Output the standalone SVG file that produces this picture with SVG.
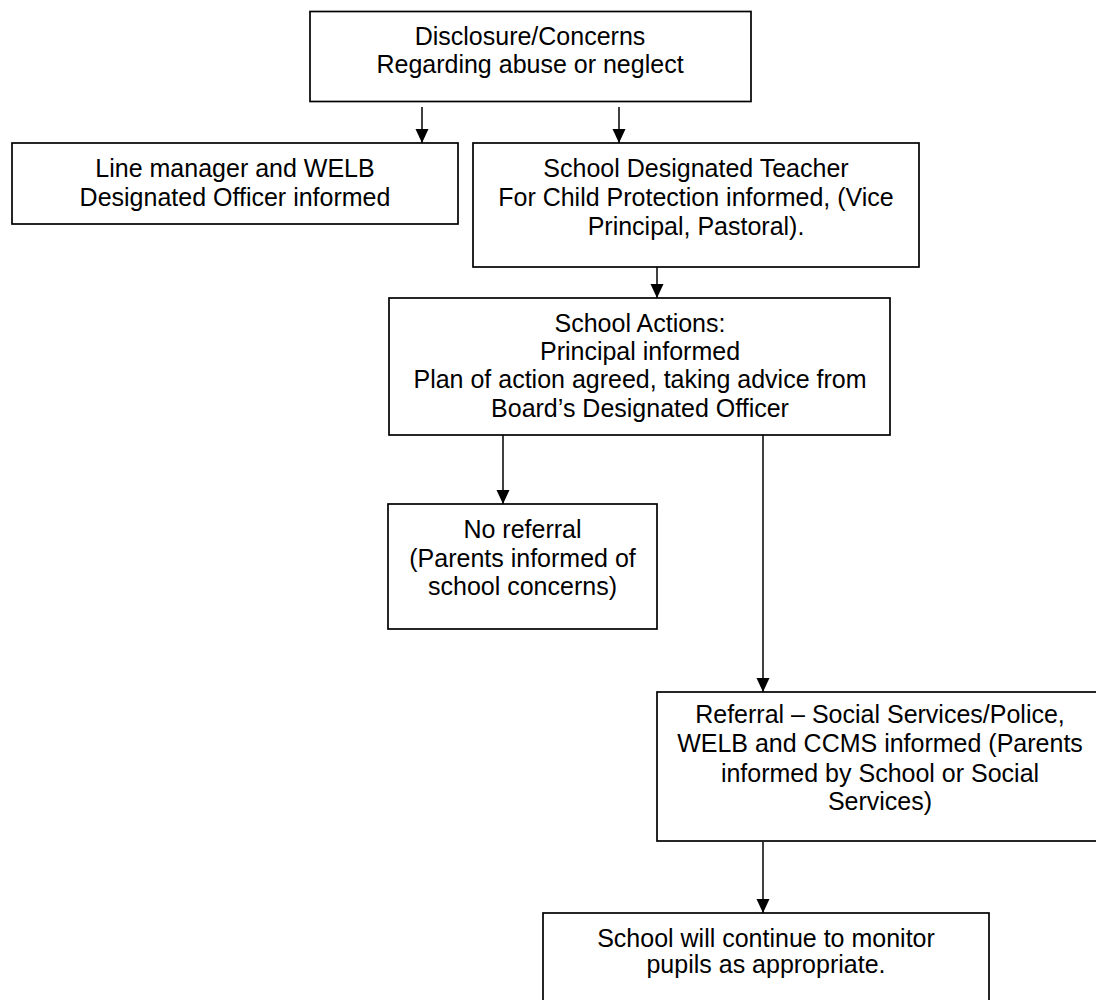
<svg xmlns="http://www.w3.org/2000/svg" width="1096" height="1000" viewBox="0 0 1096 1000">
<defs>
<marker id="ah" markerUnits="userSpaceOnUse" markerWidth="14" markerHeight="14" refX="14" refY="7" orient="auto">
<path d="M0,0.5 L14,7 L0,13.5 Z" fill="#000"/>
</marker>
<style>
.box{fill:#fff;stroke:#000;stroke-width:1.7}
.t{font-family:"Liberation Sans",Arial,sans-serif;font-size:25px;fill:#000;text-anchor:middle}
.c{stroke:#000;stroke-width:1.5;fill:none;marker-end:url(#ah)}
</style>
</defs>
<rect width="1096" height="1000" fill="#fff"/>
<g id="connectors">
<line class="c" x1="422" y1="107" x2="422" y2="143"/>
<line class="c" x1="619" y1="107" x2="619" y2="143"/>
<line class="c" x1="657" y1="267" x2="657" y2="298"/>
<line class="c" x1="503" y1="435" x2="503" y2="504"/>
<line class="c" x1="763" y1="435" x2="763" y2="692"/>
<line class="c" x1="763" y1="842" x2="763" y2="913"/>
</g>
<g id="n1">
<rect class="box" x="310" y="11.5" width="441" height="90"/>
<text class="t" x="530" y="45">Disclosure/Concerns</text>
<text class="t" x="530" y="73">Regarding abuse or neglect</text>
</g>
<g id="n2">
<rect class="box" x="12" y="143" width="446" height="81"/>
<text class="t" x="235" y="177">Line manager and WELB</text>
<text class="t" x="235" y="206">Designated Officer informed</text>
</g>
<g id="n3">
<rect class="box" x="473" y="143" width="446" height="124"/>
<text class="t" x="696" y="177">School Designated Teacher</text>
<text class="t" x="696" y="206">For Child Protection informed, (Vice</text>
<text class="t" x="696" y="235">Principal, Pastoral).</text>
</g>
<g id="n4">
<rect class="box" x="389" y="298" width="501" height="137"/>
<text class="t" x="640" y="332">School Actions:</text>
<text class="t" x="640" y="360">Principal informed</text>
<text class="t" x="640" y="388">Plan of action agreed, taking advice from</text>
<text class="t" x="640" y="417">Board’s Designated Officer</text>
</g>
<g id="n5">
<rect class="box" x="388" y="504" width="269" height="125"/>
<text class="t" x="522.5" y="538">No referral</text>
<text class="t" x="522.5" y="567">(Parents informed of</text>
<text class="t" x="522.5" y="595">school concerns)</text>
</g>
<g id="n6">
<rect class="box" x="657" y="692" width="446" height="149"/>
<text class="t" x="880" y="723">Referral – Social Services/Police,</text>
<text class="t" x="880" y="752">WELB and CCMS informed (Parents</text>
<text class="t" x="880" y="782">informed by School or Social</text>
<text class="t" x="880" y="810">Services)</text>
</g>
<g id="n7">
<rect class="box" x="543" y="913" width="446" height="100"/>
<text class="t" x="766" y="947">School will continue to monitor</text>
<text class="t" x="766" y="973">pupils as appropriate.</text>
</g>
</svg>
